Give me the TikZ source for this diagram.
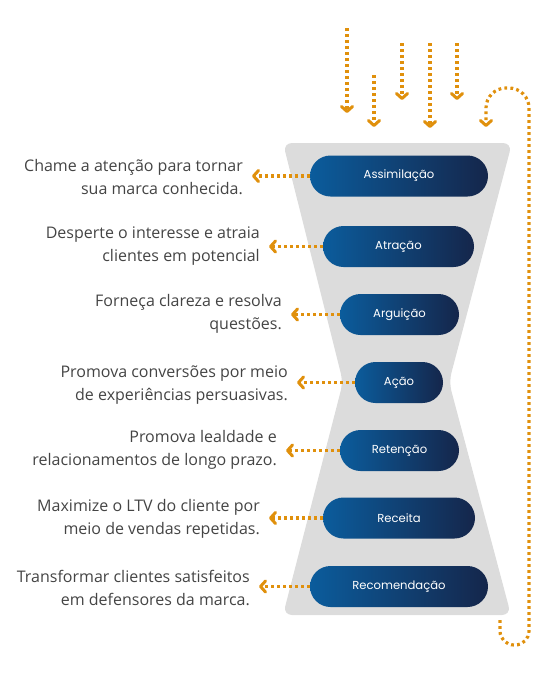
\documentclass[tikz,border=0pt]{standalone}
\usepackage{fontspec}
\setmainfont{Open Sans}
\newfontfamily\pillfont{Poppins}
\usetikzlibrary{arrows.meta}
\definecolor{funnelgray}{HTML}{DCDCDC}
\definecolor{pillL}{HTML}{0B5C9C}
\definecolor{pillR}{HTML}{15264B}
\definecolor{dotorange}{HTML}{E0900C}
\definecolor{txtgray}{HTML}{444444}
\tikzset{
  pill/.style={rectangle, rounded corners=20.5pt, minimum height=41pt, inner sep=0pt,
    left color=pillL, right color=pillR, text=white, font=\pillfont\fontsize{11.6}{13}\selectfont},
  desc/.style={anchor=east, align=right, text=txtgray, inner sep=0pt,
    font=\fontsize{16}{23}\selectfont},
  dotline/.style={draw=dotorange, line width=3.2pt, dash pattern=on 2.8pt off 3.2pt},
  dotarrow/.style={dotline, -{Straight Barb[length=5pt,width=11pt,line width=3pt,line cap=round,line join=round]}},
}
\begin{document}
\begin{tikzpicture}[x=1pt,y=-1pt]
\useasboundingbox (0,0) rectangle (540,675);
% funnel
\fill[funnelgray, rounded corners=9pt] (283,143) -- (512,143) -- (449,382) -- (511,615) -- (283,615) -- (343,382) -- cycle;
% pills
\node[pill, minimum width=178pt] (p1) at (399,176) {Assimilação};
\node[pill, minimum width=151pt] (p2) at (398.5,246.5) {Atração};
\node[pill, minimum width=119pt] (p3) at (399.5,314.5) {Arguição};
\node[pill, minimum width=88pt] (p4) at (399,382.5) {Ação};
\node[pill, minimum width=119pt] (p5) at (399.5,450.5) {Retenção};
\node[pill, minimum width=152pt] (p6) at (399,518) {Receita};
\node[pill, minimum width=178pt] (p7) at (399,586.5) {Recomendação};
% descriptions
\node[desc] (t1) at (243,177) {Chame a atenção para tornar\\sua marca conhecida.};
\node[desc] (t2) at (260,246) {Desperte o interesse e atraia\\clientes em potencial};
\node[desc] (t3) at (282,314) {Forneça clareza e resolva\\questões.};
\node[desc] (t4) at (288,385) {Promova conversões por meio\\de experiências persuasivas.};
\node[desc] (t5) at (277,450) {Promova lealdade e\\relacionamentos de longo prazo.};
\node[desc] (t6) at (260,519) {Maximize o LTV do cliente por\\meio de vendas repetidas.};
\node[desc] (t7) at (250,588) {Transformar clientes satisfeitos\\em defensores da marca.};
% arrows to descriptions
\foreach \i in {1,...,7}{
  \draw[dotarrow] (p\i.west) -- ([xshift=9pt]t\i.east |- p\i.west);
}
% incoming arrows
\coordinate (a1s) at (347,28);  \coordinate (a1e) at (347,113);
\coordinate (a2s) at (374,75);  \coordinate (a2e) at (374,127);
\coordinate (a3s) at (402,43);  \coordinate (a3e) at (402,100);
\coordinate (a4s) at (430,43);  \coordinate (a4e) at (430,128);
\coordinate (a5s) at (457,43);  \coordinate (a5e) at (457,100);
\foreach \i in {1,...,5}{
  \draw[dotarrow] (a\i s) -- (a\i e);
}
% loop back arrow
\coordinate (ls) at (500,620);
\coordinate (le) at (486,127);
\draw[dotarrow, rounded corners=14pt] (ls) -- (500,645) -- (529,645) [rounded corners=20pt] -- (529,88) -- (486,88) -- (le);
\end{tikzpicture}
\end{document}
